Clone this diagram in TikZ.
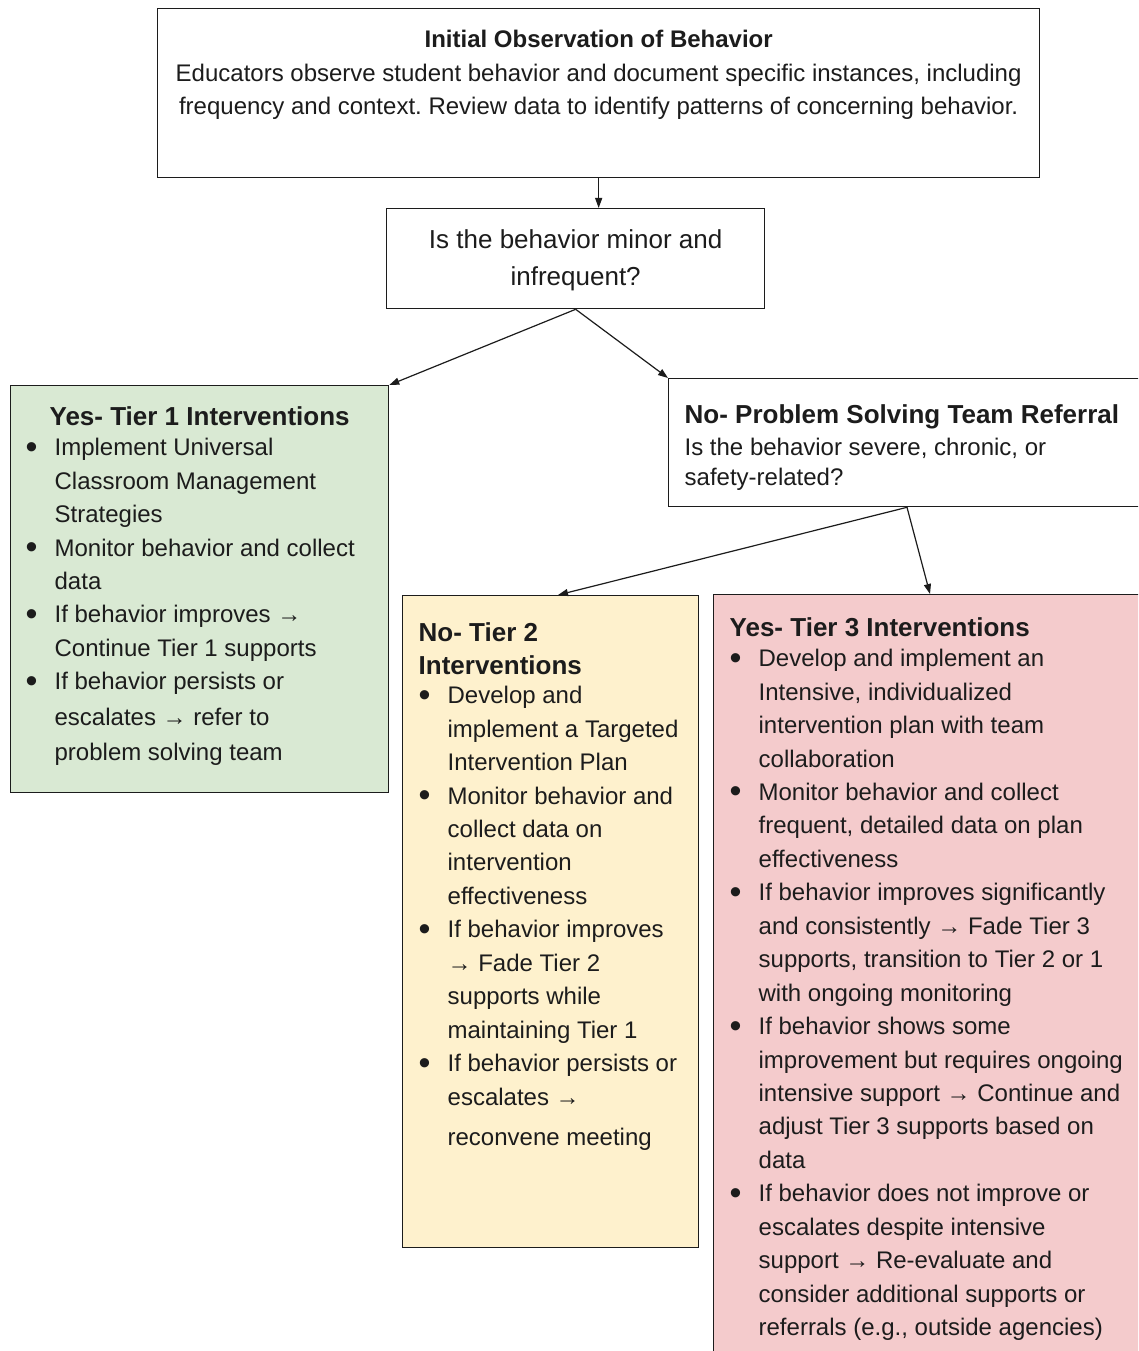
\documentclass[tikz,border=0pt]{standalone}
\usepackage{fontspec}
\setmainfont{Liberation Sans}
\usetikzlibrary{arrows.meta}

\definecolor{inkc}{HTML}{1C1C1C}
\definecolor{greenfill}{HTML}{D9E9D3}
\definecolor{yellowfill}{HTML}{FEF1CD}
\definecolor{redfill}{HTML}{F4CBCC}

% type sizes (1 unit = 1 bp)
\newcommand{\bodyfont}{\fontsize{24bp}{33.45bp}\selectfont}
\newcommand{\headfont}{\fontsize{26bp}{33bp}\selectfont\bfseries}
\newcommand{\firstline}{\rule{0pt}{20bp}}
% list bullet hung into the left indent
\newcommand{\bul}{\leavevmode\llap{\makebox[29bp][l]{\raisebox{-2.5bp}{\fontsize{34bp}{34bp}\selectfont\textbullet}}}}
% box body: width, height, top padding, content
\newcommand{\panel}[4]{\begin{minipage}[c][#2][t]{#1}\frenchspacing\parskip=0pt\vspace*{#3}#4\end{minipage}}

\tikzset{
  box/.style={draw=inkc, line width=1.3bp, inner sep=0pt, anchor=north west, text=inkc},
  link/.style={draw=inkc, line width=1.2bp, -{Triangle[length=10bp,width=7bp]}}
}

\begin{document}
\begin{tikzpicture}[x=1bp, y=-1bp]
\clip (0,0) rectangle (1138,1351);
\fill[white] (0,0) rectangle (1138,1351);

% initial observation
\node[box] (obs) at (157,8) {\panel{882bp}{169bp}{19bp}{%
  {\centering\fontsize{24bp}{33.45bp}\selectfont\bfseries\firstline Initial Observation of Behavior\par}
  {\centering\bodyfont Educators observe student behavior and document specific instances, including\\
   frequency and context. Review data to identify patterns of concerning behavior.\par}}};

% first decision
\node[box] (minor) at (386,208) {\panel{378bp}{100bp}{20bp}{%
  {\centering\fontsize{26bp}{37bp}\selectfont\firstline Is the behavior minor and\\ infrequent?\par}}};

% tier 1
\node[box, fill=greenfill] (tone) at (10,385) {\panel{378bp}{407bp}{20bp}{%
  {\headfont\centering\firstline Yes- Tier 1 Interventions\par}
  \vspace{-3.45bp}
  {\bodyfont\leftskip=44bp
  \bul Implement Universal\\
  Classroom Management\\
  Strategies\\
  \bul Monitor behavior and collect\\
  data\\
  \bul If behavior improves →\\
  Continue Tier 1 supports\\
  \bul If behavior persists or\\[2.5bp]
  escalates → refer to\\[1.5bp]
  problem solving team\par}}};

% problem solving team referral
\node[box] (team) at (668,378) {\panel{540bp}{128bp}{25bp}{%
  {\headfont\leftskip=16bp\firstline No- Problem Solving Team Referral\par}
  \vspace{2bp}
  {\fontsize{24bp}{30bp}\selectfont\leftskip=16bp
  Is the behavior severe, chronic, or\\
  safety-related?\par}}};

% tier 2
\node[box, fill=yellowfill] (ttwo) at (402,595) {\panel{296bp}{652bp}{26bp}{%
  {\headfont\leftskip=16bp\firstline No- Tier 2\\ Interventions\par}
  \vspace{-4.45bp}
  {\bodyfont\leftskip=45bp
  \bul Develop and\\
  implement a Targeted\\
  Intervention Plan\\
  \bul Monitor behavior and\\
  collect data on\\
  intervention\\
  effectiveness\\
  \bul If behavior improves\\
  → Fade Tier 2\\
  supports while\\
  maintaining Tier 1\\
  \bul If behavior persists or\\
  escalates →\\[6.5bp]
  reconvene meeting\par}}};

% tier 3
\node[box, fill=redfill] (tthree) at (713,594) {\panel{500bp}{820bp}{22bp}{%
  {\headfont\leftskip=16bp\firstline Yes- Tier 3 Interventions\par}
  \vspace{-3.45bp}
  {\bodyfont\leftskip=45bp
  \bul Develop and implement an\\
  Intensive, individualized\\
  intervention plan with team\\
  collaboration\\
  \bul Monitor behavior and collect\\
  frequent, detailed data on plan\\
  effectiveness\\
  \bul If behavior improves significantly\\
  and consistently → Fade Tier 3\\
  supports, transition to Tier 2 or 1\\
  with ongoing monitoring\\
  \bul If behavior shows some\\
  improvement but requires ongoing\\
  intensive support → Continue and\\
  adjust Tier 3 supports based on\\
  data\\
  \bul If behavior does not improve or\\
  escalates despite intensive\\
  support → Re-evaluate and\\
  consider additional supports or\\
  referrals (e.g., outside agencies)\par}}};

% connectors
\draw[link] (obs.south) -- (obs.south |- minor.north);
\draw[link] (minor.south) -- (tone.north east);
\draw[link] (minor.south) -- (team.north west);
\draw[link] ([xshift=239bp]team.south west) -- ([xshift=156bp]ttwo.north west);
\draw[link] ([xshift=239bp]team.south west) -- ([xshift=217bp]tthree.north west);
\end{tikzpicture}
\end{document}
